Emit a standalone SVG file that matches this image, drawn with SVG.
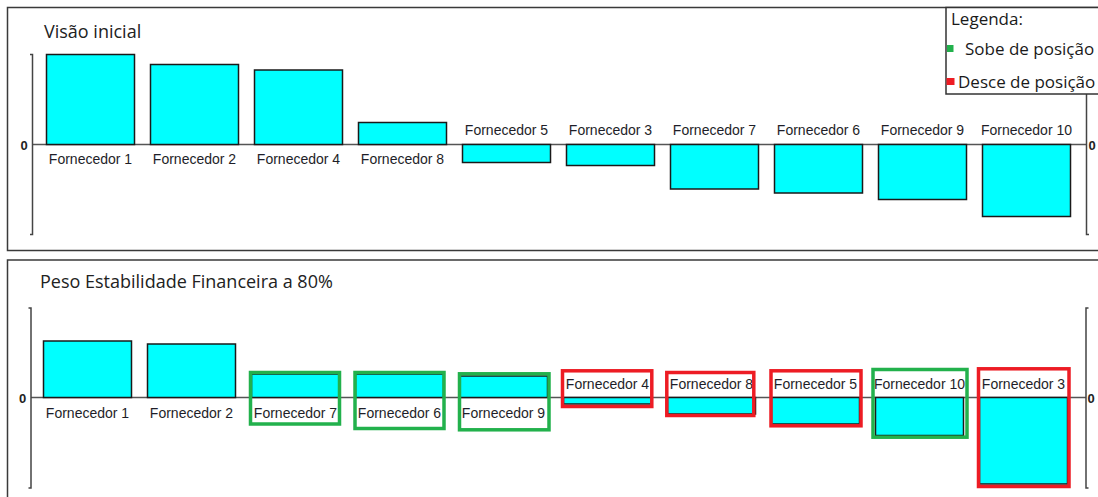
<svg xmlns="http://www.w3.org/2000/svg" width="1098" height="497" viewBox="0 0 1098 497">
<style>
.panel{fill:#fff;stroke:#3a3a3a;stroke-width:1.5}
.bar{fill:#00ffff;stroke:#1a1a1a;stroke-width:1.5}
.axis{fill:none;stroke:#444;stroke-width:1.5}
.zero{stroke:#555;stroke-width:1.5}
.lbl{font-family:"Liberation Sans",Arial,sans-serif;font-size:14px;fill:#1e1e28;text-anchor:middle}
.tick{font-family:"Liberation Sans",Arial,sans-serif;font-size:13px;font-weight:bold;fill:#222;text-anchor:middle}
.title{font-family:"Open Sans","Liberation Sans",sans-serif;font-size:18px;fill:#222}
.leg{font-family:"Open Sans","Liberation Sans",sans-serif;font-size:17px;fill:#1a1a1a}
.up{fill:none;stroke:#22b14c;stroke-width:3.5}
.down{fill:none;stroke:#ed1c24;stroke-width:3.5}
</style>
<rect x="0" y="0" width="1098" height="497" fill="#fff"/>

<!-- Top panel -->
<g id="panel-top">
<rect class="panel" x="7.5" y="7.5" width="1100" height="243"/>
<text class="title" x="44" y="38">Visão inicial</text>
</g>
<g id="axes-top">
<line class="zero" x1="32" y1="144.5" x2="1087" y2="144.5"/>
<path class="axis" d="M30,54.5 H32.5 V234.5 H30"/>
<path class="axis" d="M1089,234.5 H1086.5 V54.5"/>
<text class="tick" x="24" y="150">0</text>
<text class="tick" x="1092" y="150">0</text>
</g>
<g id="top-f1"><rect class="bar" x="46.5" y="54.5" width="88" height="90"/><text class="lbl" x="90.5" y="164">Fornecedor 1</text></g>
<g id="top-f2"><rect class="bar" x="150.5" y="64.5" width="88" height="80"/><text class="lbl" x="194.5" y="164">Fornecedor 2</text></g>
<g id="top-f4"><rect class="bar" x="254.5" y="70" width="88" height="74.5"/><text class="lbl" x="298.5" y="164">Fornecedor 4</text></g>
<g id="top-f8"><rect class="bar" x="358.5" y="122.5" width="88" height="22"/><text class="lbl" x="402.5" y="164">Fornecedor 8</text></g>
<g id="top-f5"><rect class="bar" x="462.5" y="144.5" width="88" height="18"/><text class="lbl" x="506.5" y="135">Fornecedor 5</text></g>
<g id="top-f3"><rect class="bar" x="566.5" y="144.5" width="88" height="21"/><text class="lbl" x="610.5" y="135">Fornecedor 3</text></g>
<g id="top-f7"><rect class="bar" x="670.5" y="144.5" width="88" height="44.5"/><text class="lbl" x="714.5" y="135">Fornecedor 7</text></g>
<g id="top-f6"><rect class="bar" x="774.5" y="144.5" width="88" height="48.5"/><text class="lbl" x="818.5" y="135">Fornecedor 6</text></g>
<g id="top-f9"><rect class="bar" x="878.5" y="144.5" width="88" height="55"/><text class="lbl" x="922.5" y="135">Fornecedor 9</text></g>
<g id="top-f10"><rect class="bar" x="982.5" y="144.5" width="88" height="72"/><text class="lbl" x="1026.5" y="135">Fornecedor 10</text></g>

<g id="legend">
<rect x="946" y="7.5" width="160" height="86.5" fill="#fff" stroke="#333" stroke-width="1.5"/>
<text class="leg" x="951" y="25">Legenda:</text>
<rect x="947" y="45" width="6.5" height="7" fill="#22b14c"/>
<text class="leg" x="965" y="55">Sobe de posição</text>
<rect x="946.5" y="78" width="8" height="7" fill="#ed1c24"/>
<text class="leg" x="958" y="88">Desce de posição</text>
</g>

<!-- Bottom panel -->
<g id="panel-bottom">
<rect class="panel" x="7.5" y="260" width="1100" height="260"/>
<text class="title" x="40" y="288">Peso Estabilidade Financeira a 80%</text>
</g>
<g id="axes-bottom">
<line class="zero" x1="31" y1="397.5" x2="1086" y2="397.5"/>
<path class="axis" d="M28.5,308 H31 V488 H28.5"/>
<path class="axis" d="M1088.5,308 H1086 V488 H1088.5"/>
<text class="tick" x="22.5" y="403">0</text>
<text class="tick" x="1091" y="403">0</text>
</g>
<g id="bot-f1"><rect class="bar" x="43.5" y="341" width="88" height="56.5"/><text class="lbl" x="87.5" y="417.5">Fornecedor 1</text></g>
<g id="bot-f2"><rect class="bar" x="147.5" y="344" width="88" height="53.5"/><text class="lbl" x="191.5" y="417.5">Fornecedor 2</text></g>
<g id="bot-f7"><rect class="bar" x="251.5" y="374" width="88" height="23.5"/><text class="lbl" x="295.5" y="417.5">Fornecedor 7</text><rect class="up" x="250.5" y="372.5" width="89" height="51.5"/></g>
<g id="bot-f6"><rect class="bar" x="355.5" y="374" width="88" height="23.5"/><text class="lbl" x="399.5" y="417.5">Fornecedor 6</text><rect class="up" x="355" y="372.5" width="89" height="56"/></g>
<g id="bot-f9"><rect class="bar" x="459.5" y="376" width="88" height="21.5"/><text class="lbl" x="503.5" y="417.5">Fornecedor 9</text><rect class="up" x="459.5" y="373.8" width="89.5" height="56"/></g>
<g id="bot-f4"><rect class="bar" x="563.5" y="397.5" width="88" height="6.5"/><text class="lbl" x="607.5" y="388.5">Fornecedor 4</text><rect class="down" x="562.5" y="370.8" width="89.3" height="35.7"/></g>
<g id="bot-f8"><rect class="bar" x="667.5" y="397.5" width="88" height="16.5"/><text class="lbl" x="711.5" y="388.5">Fornecedor 8</text><rect class="down" x="666.8" y="372.5" width="87" height="43"/></g>
<g id="bot-f5"><rect class="bar" x="771.5" y="397.5" width="88" height="26.5"/><text class="lbl" x="815.5" y="388.5">Fornecedor 5</text><rect class="down" x="771" y="370.8" width="90" height="55"/></g>
<g id="bot-f10"><rect class="bar" x="875.5" y="397.5" width="88" height="38"/><text class="lbl" x="919.5" y="388.5">Fornecedor 10</text><rect class="up" x="873" y="369.5" width="94" height="67.7"/></g>
<g id="bot-f3"><rect class="bar" x="979.5" y="397.5" width="88" height="86.5"/><text class="lbl" x="1023.5" y="388.5">Fornecedor 3</text><rect class="down" x="978.5" y="368.8" width="90.5" height="117.7"/></g>

<g id="connectors"></g>
</svg>
